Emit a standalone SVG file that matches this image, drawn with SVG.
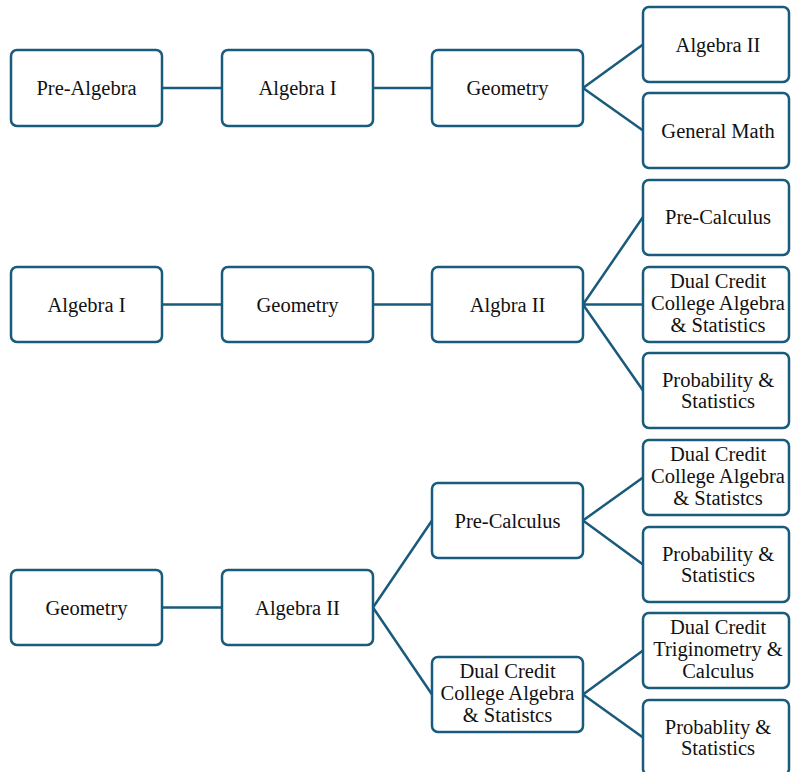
<svg xmlns="http://www.w3.org/2000/svg" width="791" height="772" viewBox="0 0 791 772">
<style>
.box{fill:#fff;stroke:#195b7c;stroke-width:2.5}
.c{fill:none;stroke:#195b7c;stroke-width:2.5}
.t{font-family:'Liberation Serif','DejaVu Serif',serif;font-size:20.5px;fill:#111;text-anchor:middle}
</style>
<rect width="791" height="772" fill="#fff"/>
<g id="connectors">
<path class="c" d="M162 88H222M373 88H432M583 88L643 44.5M583 88L643 130.5"/>
<path class="c" d="M162 304.5H222M373 304.5H432M583 304.5L643 217M583 304.5H643M583 304.5L643 390.5"/>
<path class="c" d="M162 607.5H222M373 607.5L432 520.5M373 607.5L432 694.5M583 520.5L643 477.5M583 520.5L643 564.5M583 694.5L643 650.5M583 694.5L643 737.5"/>
</g>
<g id="r1-prealgebra"><rect class="box" x="11" y="50" width="151" height="76" rx="6"/><text class="t" x="86.5" y="95">Pre-Algebra</text></g>
<g id="r1-algebra1"><rect class="box" x="222" y="50" width="151" height="76" rx="6"/><text class="t" x="297.5" y="95">Algebra I</text></g>
<g id="r1-geometry"><rect class="box" x="432" y="50" width="151" height="76" rx="6"/><text class="t" x="507.5" y="95">Geometry</text></g>
<g id="r1-algebra2"><rect class="box" x="643" y="7" width="146" height="75" rx="6"/><text class="t" x="718" y="51.5">Algebra II</text></g>
<g id="r1-generalmath"><rect class="box" x="643" y="93" width="146" height="75" rx="6"/><text class="t" x="718" y="137.5">General Math</text></g>

<g id="r2-algebra1"><rect class="box" x="11" y="267" width="151" height="75" rx="6"/><text class="t" x="86.5" y="311.5">Algebra I</text></g>
<g id="r2-geometry"><rect class="box" x="222" y="267" width="151" height="75" rx="6"/><text class="t" x="297.5" y="311.5">Geometry</text></g>
<g id="r2-algbra2"><rect class="box" x="432" y="267" width="151" height="75" rx="6"/><text class="t" x="507.5" y="311.5">Algbra II</text></g>
<g id="r2-precalc"><rect class="box" x="643" y="180" width="146" height="75" rx="6"/><text class="t" x="718" y="224">Pre-Calculus</text></g>
<g id="r2-dualcredit"><rect class="box" x="643" y="267" width="146" height="75" rx="6"/><text class="t" x="718" y="288">Dual Credit</text><text class="t" x="718" y="310">College Algebra</text><text class="t" x="718" y="331.5">&amp; Statistics</text></g>
<g id="r2-probstats"><rect class="box" x="643" y="353" width="146" height="75" rx="6"/><text class="t" x="718" y="387">Probability &amp;</text><text class="t" x="718" y="408">Statistics</text></g>

<g id="r3-geometry"><rect class="box" x="11" y="570" width="151" height="75" rx="6"/><text class="t" x="86.5" y="614.5">Geometry</text></g>
<g id="r3-algebra2"><rect class="box" x="222" y="570" width="151" height="75" rx="6"/><text class="t" x="297.5" y="614.5">Algebra II</text></g>
<g id="r3-precalc"><rect class="box" x="432" y="483" width="151" height="75" rx="6"/><text class="t" x="507.5" y="527.5">Pre-Calculus</text></g>
<g id="r3-dualcredit"><rect class="box" x="432" y="657" width="151" height="75" rx="6"/><text class="t" x="507.5" y="678">Dual Credit</text><text class="t" x="507.5" y="700">College Algebra</text><text class="t" x="507.5" y="721.5">&amp; Statistcs</text></g>
<g id="r3-dc-algstats"><rect class="box" x="643" y="440" width="146" height="75" rx="6"/><text class="t" x="718" y="461">Dual Credit</text><text class="t" x="718" y="483">College Algebra</text><text class="t" x="718" y="504.5">&amp; Statistcs</text></g>
<g id="r3-probstats"><rect class="box" x="643" y="527" width="146" height="75" rx="6"/><text class="t" x="718" y="561">Probability &amp;</text><text class="t" x="718" y="582">Statistics</text></g>
<g id="r3-dc-trigcalc"><rect class="box" x="643" y="613" width="146" height="75" rx="6"/><text class="t" x="718" y="634">Dual Credit</text><text class="t" x="718" y="656">Triginometry &amp;</text><text class="t" x="718" y="677.5">Calculus</text></g>
<g id="r3-probablity"><rect class="box" x="643" y="700" width="146" height="75" rx="6"/><text class="t" x="718" y="734">Probablity &amp;</text><text class="t" x="718" y="755">Statistics</text></g>
</svg>
